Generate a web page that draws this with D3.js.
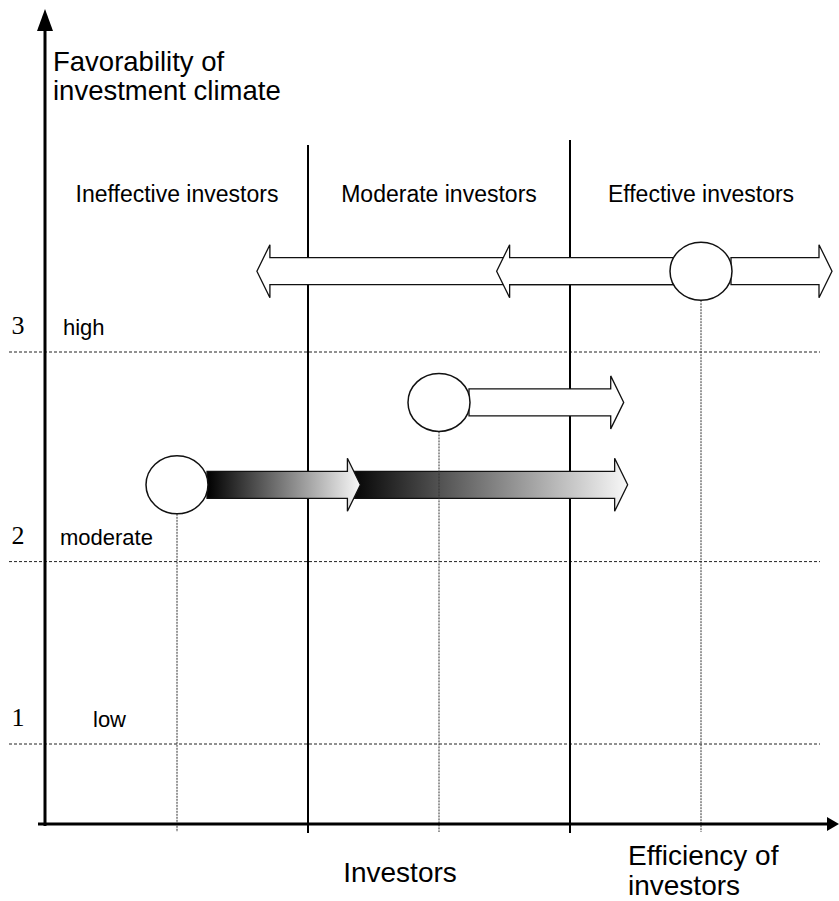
<!DOCTYPE html>
<html>
<head>
<meta charset="utf-8">
<style>
  body { margin: 0; background: #fff; }
  svg { display: block; font-family: "Liberation Sans", Arial, sans-serif; }
</style>
</head>
<body>
<svg id="chart"></svg>

<script src="https://d3js.org/d3.v7.min.js"></script>
<script>
  // investor groups along the x axis (centre of each group, in x units)
  const groupNames = ["Ineffective investors", "Moderate investors", "Effective investors"];
  const groupCentres = [1, 3, 5];
  const groupBorders = [2, 4];

  // levels of the investment climate
  const levelNums = ["1", "2", "3"];
  const levelNames = ["low", "moderate", "high"];
  const levelValues = [10, 32.8, 59];

  // circles (positions of the investors)
  const circleX = [1, 3, 5];
  const circleY = [42.4, 52.7, 69.1];

  // arrows: tail, tip, row height, fill kind, starts at circle edge
  const arrowFrom = [5, 5, 5, 3, 2.3, 1];
  const arrowTo = [1.61, 3.44, 6.0, 4.41, 4.44, 2.4];
  const arrowY = [69.1, 69.1, 69.1, 52.7, 42.4, 42.4];
  const arrowFill = ["white", "white", "white", "white", "grad", "grad"];
  const arrowFromCircle = [false, false, true, true, false, true];

  const W = 839, H = 901;
  const svg = d3.select("#chart").attr("width", W).attr("height", H);

  const x = d3.scaleLinear().domain([0, 6]).range([46, 832]);
  const y = d3.scaleLinear().domain([0, 100]).range([824, 24]);

  const rx = 31, ry = 29;

  const defs = svg.append("defs");
  const grad = defs.append("linearGradient").attr("id", "darkToLight")
      .attr("x1", "0%").attr("x2", "100%").attr("y1", "0%").attr("y2", "0%");
  grad.append("stop").attr("offset", "0%").attr("stop-color", "#000");
  grad.append("stop").attr("offset", "100%").attr("stop-color", "#f8f8f8");

  // level lines (dashed)
  svg.selectAll(".level").data(levelValues).enter().append("line")
      .attr("x1", 9).attr("x2", 820)
      .attr("y1", d => y(d)).attr("y2", d => y(d))
      .attr("stroke", "#222").attr("stroke-width", 1)
      .attr("stroke-dasharray", "3,2");

  // group borders
  svg.selectAll(".border").data(groupBorders).enter().append("line")
      .attr("x1", d => x(d)).attr("x2", d => x(d))
      .attr("y1", (d, i) => i === 0 ? 145 : 140).attr("y2", 833)
      .attr("stroke", "#000").attr("stroke-width", 2);

  // group labels
  svg.selectAll(".group").data(groupNames).enter().append("text")
      .attr("x", (d, i) => x(groupCentres[i])).attr("y", 202)
      .attr("text-anchor", "middle").attr("font-size", 23)
      .text(d => d);

  // level labels
  svg.selectAll(".lnum").data(levelNums).enter().append("text")
      .attr("x", 18).attr("y", (d, i) => y(levelValues[i]) - 18)
      .attr("text-anchor", "middle")
      .attr("font-family", "'Liberation Serif', 'Times New Roman', serif")
      .attr("font-size", 26)
      .text(d => d);

  const levelTextX = [93, 60, 63];
  svg.selectAll(".lname").data(levelNames).enter().append("text")
      .attr("x", (d, i) => levelTextX[i]).attr("y", (d, i) => y(levelValues[i]) - 17)
      .attr("font-size", 22)
      .text(d => d);

  // arrows
  const line = d3.line();
  function arrowPath(x0, x1, cy) {
      const dir = x1 > x0 ? 1 : -1;
      const h = 13.5, Hh = 26.5, L = 13;
      const xb = x1 - dir * L;
      return line([[x0, cy - h], [xb, cy - h], [xb, cy - Hh], [x1, cy],
                   [xb, cy + Hh], [xb, cy + h], [x0, cy + h]]) + "Z";
  }

  arrowFrom.forEach((f, i) => {
      const dir = arrowTo[i] > f ? 1 : -1;
      const x0 = x(f) + (arrowFromCircle[i] ? dir * (rx - 1) : 0);
      svg.append("path")
          .attr("d", arrowPath(x0, x(arrowTo[i]), y(arrowY[i])))
          .attr("fill", arrowFill[i] === "grad" ? "url(#darkToLight)" : "#fff")
          .attr("stroke", "#111").attr("stroke-width", 1.3)
          .attr("stroke-linejoin", "miter");
  });

  // dashed drop lines from circles
  svg.selectAll(".drop").data(circleX).enter().append("line")
      .attr("x1", d => x(d)).attr("x2", d => x(d))
      .attr("y1", (d, i) => y(circleY[i]) + ry).attr("y2", 832)
      .attr("stroke", "#333").attr("stroke-width", 1)
      .attr("stroke-dasharray", "2,1");

  // circles
  svg.selectAll(".pos").data(circleX).enter().append("ellipse")
      .attr("cx", d => x(d)).attr("cy", (d, i) => y(circleY[i]))
      .attr("rx", rx).attr("ry", ry)
      .attr("fill", "#fff").attr("stroke", "#111").attr("stroke-width", 1.5);

  // axes with arrowheads
  svg.append("line").attr("x1", 45).attr("x2", 45).attr("y1", 826).attr("y2", 28)
      .attr("stroke", "#000").attr("stroke-width", 3);
  svg.append("path").attr("d", "M45,9 L53,31 L37,31 Z").attr("fill", "#000");

  svg.append("line").attr("x1", 38).attr("x2", 828).attr("y1", 824).attr("y2", 824)
      .attr("stroke", "#000").attr("stroke-width", 3);
  svg.append("path").attr("d", "M839,824 L827,817 L827,831 Z").attr("fill", "#000");

  // axis titles
  const yTitle = svg.append("text").attr("font-size", 27.5);
  yTitle.append("tspan").attr("x", 53).attr("y", 71).text("Favorability of");
  yTitle.append("tspan").attr("x", 53).attr("y", 100).text("investment climate");

  svg.append("text").attr("x", 400).attr("y", 882)
      .attr("text-anchor", "middle").attr("font-size", 28)
      .text("Investors");

  const xTitle = svg.append("text").attr("font-size", 28);
  xTitle.append("tspan").attr("x", 628).attr("y", 865).text("Efficiency of");
  xTitle.append("tspan").attr("x", 628).attr("y", 895).text("investors");
</script>
</body>
</html>
